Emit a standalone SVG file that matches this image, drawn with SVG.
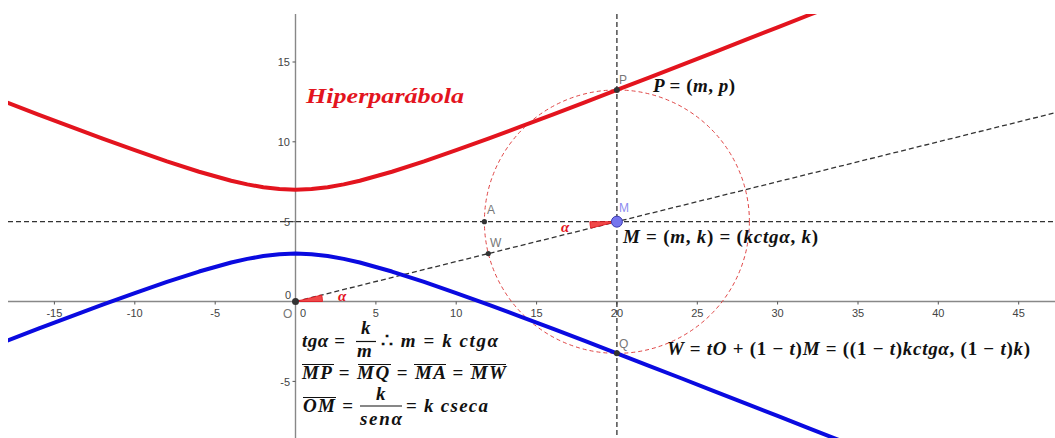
<svg xmlns="http://www.w3.org/2000/svg" width="1055" height="438" viewBox="0 0 1055 438">
<defs>
<clipPath id="view"><rect x="8" y="14" width="1047" height="424"/></clipPath>
<style>
.axis{stroke:#888;stroke-width:1.4;fill:none}
.tick{stroke:#555;stroke-width:1;fill:none}
.tl{font-family:"Liberation Sans",Arial,sans-serif;font-size:11px;fill:#444}
.dash{stroke:#333;stroke-width:1.3;stroke-dasharray:5,3;fill:none}
.circ{stroke:#e04545;stroke-width:1;stroke-dasharray:4,3;fill:none}
.red{stroke:#e3141e;stroke-width:4;fill:none;stroke-linejoin:round}
.blue{stroke:#0a0ae0;stroke-width:4;fill:none;stroke-linejoin:round}
.pt{fill:#333}
.pl{font-family:"Liberation Sans",Arial,sans-serif;font-size:12px;fill:#777}
.math{font-family:"Liberation Serif","Times New Roman",serif;font-weight:bold;font-style:italic;font-size:19px;fill:#111}
.up{font-style:normal}
.ang{fill:#f04848;stroke:#e3141e;stroke-width:0.8}
.alpha{font-family:"Liberation Serif",serif;font-weight:bold;font-style:italic;font-size:15px;fill:#e3141e}
.ovl{stroke:#111;stroke-width:1.2}
</style>
</defs>
<rect width="1055" height="438" fill="#fff"/>
<g id="axes">
<line class="axis" x1="8" y1="301.5" x2="1055" y2="301.5"/>
<line class="axis" x1="295.5" y1="14" x2="295.5" y2="438"/>
<g class="tick">
<path d="M54.4,301.5v3M134.8,301.5v3M215.2,301.5v3M375.9,301.5v3M456.2,301.5v3M536.6,301.5v3M616.9,301.5v3M697.3,301.5v3M777.6,301.5v3M858,301.5v3M938.3,301.5v3M1018.7,301.5v3"/>
<path d="M295.5,62h-3M295.5,141.8h-3M295.5,221.7h-3M295.5,381.4h-3"/>
</g>
<g class="tl" text-anchor="middle">
<text x="54.4" y="317">-15</text>
<text x="134.8" y="317">-10</text>
<text x="215.2" y="317">-5</text>
<text x="303" y="317">0</text>
<text x="375.9" y="317">5</text>
<text x="456.2" y="317">10</text>
<text x="536.6" y="317">15</text>
<text x="616.9" y="317">20</text>
<text x="697.3" y="317">25</text>
<text x="777.6" y="317">30</text>
<text x="858" y="317">35</text>
<text x="938.3" y="317">40</text>
<text x="1018.7" y="317">45</text>
</g>
<g class="tl" text-anchor="end">
<text x="290" y="66">15</text>
<text x="290" y="146">10</text>
<text x="290" y="226">5</text>
<text x="290" y="386">-5</text>
<text x="291" y="299">0</text>
</g>
</g>
<g id="connectors" clip-path="url(#view)">
<line class="dash" x1="8" y1="221.65" x2="1055" y2="221.65"/>
<line class="dash" x1="616.9" y1="14" x2="616.9" y2="438"/>
<line class="dash" x1="295.5" y1="301.5" x2="1055" y2="112.8"/>
<ellipse id="circle" class="circ" cx="616.9" cy="221.65" rx="132.5" ry="131.7"/>
</g>
<g id="curves" clip-path="url(#view)">
<polyline id="hiper-red" class="red" points="6.24,102.31 38.38,114.57 70.52,126.68 102.66,138.61 134.8,150.23 166.94,161.39 199.08,171.76 231.22,180.75 247.29,184.40 263.36,187.25 279.43,189.08 295.5,189.71 311.57,189.08 327.64,187.25 343.71,184.40 359.78,180.75 391.92,171.76 424.06,161.39 456.2,150.23 488.34,138.61 520.48,126.68 552.62,114.57 584.76,102.31 616.9,89.95 649.04,77.53 681.18,65.05 713.32,52.52 745.46,39.96 777.6,27.36 809.74,14.75 841.88,2.12"/>
<polyline id="hiper-blue" class="blue" points="6.24,340.99 38.38,328.73 70.52,316.62 102.66,304.69 134.8,293.07 166.94,281.91 199.08,271.54 231.22,262.55 247.29,258.90 263.36,256.05 279.43,254.22 295.5,253.59 311.57,254.22 327.64,256.05 343.71,258.90 359.78,262.55 391.92,271.54 424.06,281.91 456.2,293.07 488.34,304.69 520.48,316.62 552.62,328.73 584.76,340.99 616.9,353.35 649.04,365.77 681.18,378.25 713.32,390.78 745.46,403.34 777.6,415.94 809.74,428.55 841.88,441.18"/>
</g>
<g id="angles">
<path class="ang" d="M295.5,301.5 L322.5,301.5 A27,27 0 0 0 321.7,294.99 Z"/>
<text class="alpha" x="338" y="301">α</text>
<path class="ang" d="M616.9,221.65 L589.9,221.65 A27,27 0 0 0 590.7,228.16 Z"/>
<text class="alpha" x="561" y="232">α</text>
</g>
<g id="node-O"><circle class="pt" cx="295.5" cy="301.5" r="3.5"/><text class="pl" x="283" y="318">O</text></g>
<g id="node-A"><circle class="pt" cx="484.4" cy="221.65" r="2.6"/><text class="pl" x="487" y="214">A</text></g>
<g id="node-W"><circle class="pt" cx="488.3" cy="253.6" r="2.6"/><text class="pl" x="490" y="247">W</text></g>
<g id="node-P"><circle class="pt" cx="616.9" cy="89.95" r="3"/><text class="pl" x="619" y="84">P</text></g>
<g id="node-Q"><circle class="pt" cx="616.9" cy="353.3" r="3"/><text class="pl" x="619" y="348">Q</text></g>
<g id="node-M"><circle cx="616.9" cy="221.65" r="5.5" fill="#7575ee" stroke="#3a3ab0" stroke-width="1"/><text class="pl" x="619" y="212" style="fill:#8c8cf0">M</text></g>
<g id="title">
<text x="306" y="103" font-family="'Liberation Serif',serif" font-weight="bold" font-style="italic" font-size="21" fill="#e3141e" textLength="158" lengthAdjust="spacingAndGlyphs">Hiperparábola</text>
</g>
<g id="eq-P"><text class="math" x="653" y="92" textLength="82">P <tspan class="up">= (</tspan>m<tspan class="up">,</tspan> p<tspan class="up">)</tspan></text></g>
<g id="eq-M"><text class="math" x="623" y="243" textLength="195">M <tspan class="up">= (</tspan>m<tspan class="up">,</tspan> k<tspan class="up">) = (</tspan>kctgα<tspan class="up">,</tspan> k<tspan class="up">)</tspan></text></g>
<g id="eq-W"><text class="math" x="667" y="355" textLength="363">W <tspan class="up">=</tspan> tO <tspan class="up">+ (1 − </tspan>t<tspan class="up">)</tspan>M <tspan class="up">= ((1 − </tspan>t<tspan class="up">)</tspan>kctgα<tspan class="up">, (1 − </tspan>t<tspan class="up">)</tspan>k<tspan class="up">)</tspan></text></g>
<g id="formulas">
<text class="math" x="302" y="347" textLength="43">tgα <tspan class="up">=</tspan></text>
<text class="math" x="361" y="334" font-size="17">k</text>
<line class="ovl" x1="356" y1="341.5" x2="376" y2="341.5"/>
<text class="math" x="357" y="357" font-size="17">m</text>
<text class="math" x="381" y="347" textLength="117"><tspan class="up">∴</tspan> m <tspan class="up">=</tspan> k ctgα</text>
<text class="math" x="302" y="379" textLength="204">MP <tspan class="up">=</tspan> MQ <tspan class="up">=</tspan> MA <tspan class="up">=</tspan> MW</text>
<path class="ovl" d="M302,364.5h32M358,364.5h33M414,364.5h32M470,364.5h36"/>
<text class="math" x="303" y="412" textLength="50">OM <tspan class="up">=</tspan></text>
<line class="ovl" x1="303" y1="397.5" x2="336" y2="397.5"/>
<text class="math" x="376" y="400" font-size="16">k</text>
<line class="ovl" x1="360" y1="406" x2="402" y2="406"/>
<text class="math" x="360" y="425" font-size="17" textLength="42">senα</text>
<text class="math" x="406" y="412" textLength="82"><tspan class="up">=</tspan> k cseca</text>
</g>
</svg>
